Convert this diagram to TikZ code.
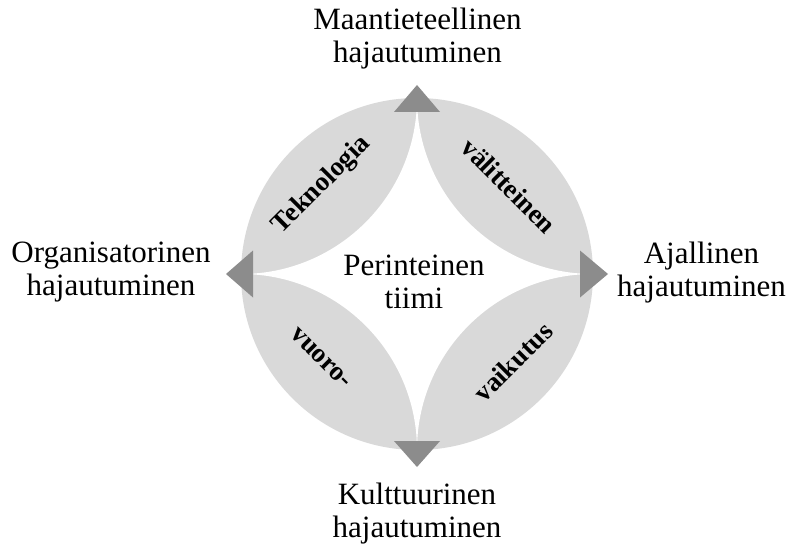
\documentclass[tikz,border=0pt]{standalone}
\usepackage{fontspec}
\setmainfont{Liberation Serif}
\definecolor{leafgray}{HTML}{D9D9D9}
\definecolor{tipgray}{HTML}{8C8C8C}
\begin{document}
\begin{tikzpicture}[x=1pt,y=1pt,
  biglabel/.style={align=center,inner sep=0pt,font=\fontsize{31}{33}\selectfont},
  leaflabel/.style={inner sep=0pt,font=\fontsize{27}{30}\selectfont\bfseries},
  tip/.style={fill=tipgray,draw=none}]
\useasboundingbox[fill=white] (0,0) rectangle (789,547);
% circle and star
\fill[leafgray] (417,273) circle[radius=176];
\fill[white] (417,449) arc[start angle=0,end angle=-90,radius=176]
  arc[start angle=90,end angle=0,radius=176]
  arc[start angle=180,end angle=90,radius=176]
  arc[start angle=270,end angle=180,radius=176] -- cycle;
% triangles
\fill[tip] (394,435) -- (417,462) -- (440,435) -- cycle;
\fill[tip] (253,296.5) -- (226,273) -- (253,249.5) -- cycle;
\fill[tip] (580,296.5) -- (608,273) -- (580,249.5) -- cycle;
\fill[tip] (394,106) -- (417,80) -- (440,106) -- cycle;
% labels
\node[biglabel] (top) at (417.5,508.5) {Maantieteellinen\\hajautuminen};
\node[biglabel] (left) at (111,274.5) {Organisatorinen\\hajautuminen};
\node[biglabel] (right) at (701.5,274.5) {Ajallinen\\hajautuminen};
\node[biglabel] (bottom) at (417,33) {Kulttuurinen\\hajautuminen};
\node[biglabel] (center) at (414,265) {Perinteinen\\tiimi};
\node[leaflabel,rotate=45] (tek) at (322,362) {Teknologia};
\node[leaflabel,rotate=-45] (val) at (509,361) {välitteinen};
\node[leaflabel,rotate=-45] (vuo) at (321,189) {vuoro-};
\node[leaflabel,rotate=45] (vai) at (513,185) {vaikutus};
\end{tikzpicture}
\end{document}
